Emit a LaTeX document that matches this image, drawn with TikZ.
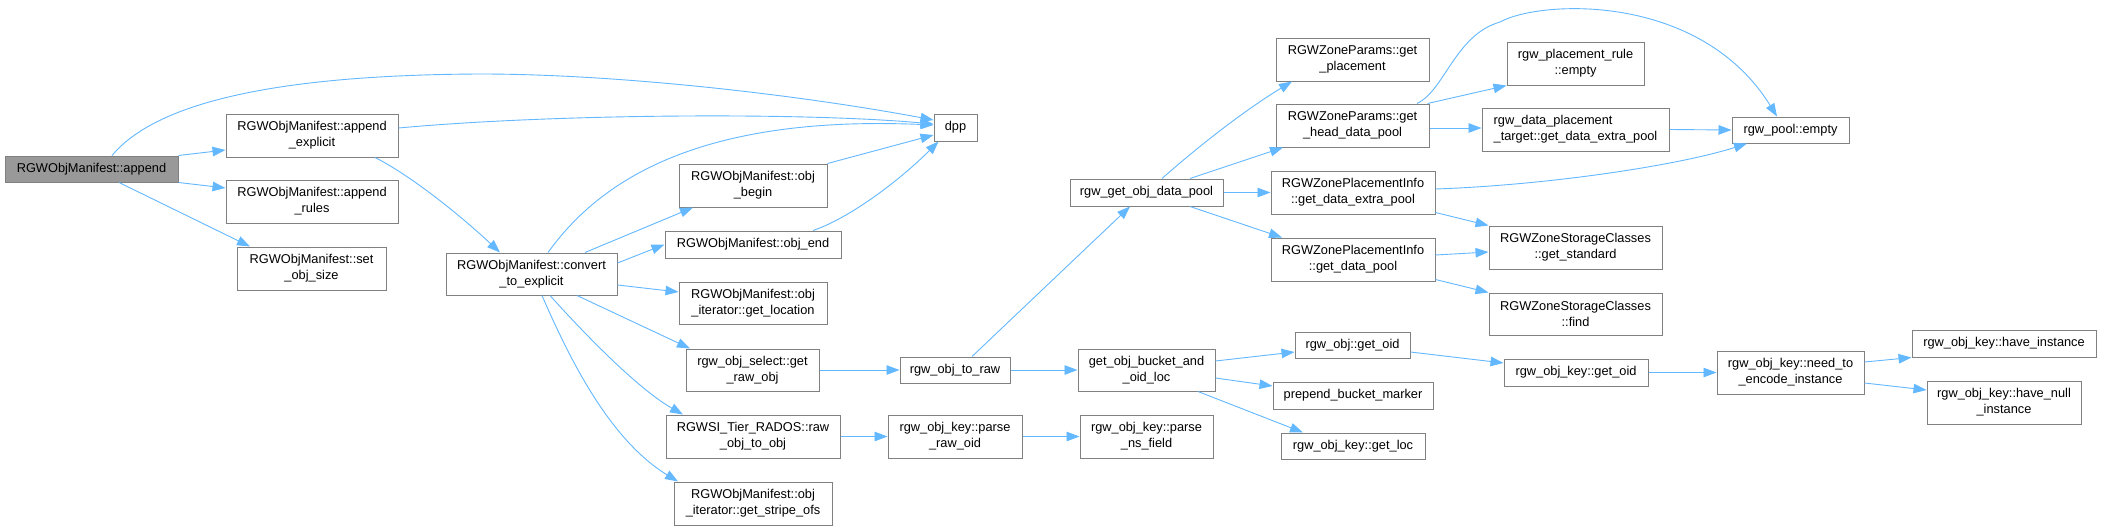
\documentclass[tikz,border=0pt]{standalone}
\usepackage{fontspec}
\setmainfont{Liberation Sans}
\usetikzlibrary{arrows.meta}
\definecolor{edgeblue}{HTML}{63B8FF}
\definecolor{boxgray}{HTML}{808080}
\definecolor{rootgray}{HTML}{999999}
\begin{document}
\begin{tikzpicture}[x=1pt,y=-1pt,
  box/.style={draw=boxgray, fill=white, line width=1pt, inner sep=0pt, align=center,
    font=\fontsize{12.8pt}{16pt}\selectfont},
  sz/.style 2 args={minimum width=#1pt, minimum height=#2pt},
  call/.style={draw=edgeblue, line width=0.9pt, -{Triangle[length=13pt,width=9.5pt,fill=edgeblue]}}]
\useasboundingbox[fill=white] (0,0) rectangle (2101,530);

% nodes
\node[box,sz={173}{26},fill=rootgray] (append) at (91.5,169) {RGWObjManifest::append};
\node[box,sz={172}{43}] (appexp) at (312,135.5) {RGWObjManifest::append\\\_explicit};
\node[box,sz={172}{43}] (apprules) at (312,201.5) {RGWObjManifest::append\\\_rules};
\node[box,sz={149}{43}] (setsize) at (311.5,268.5) {RGWObjManifest::set\\\_obj\_size};
\node[box,sz={171}{42}] (conv) at (531.5,274) {RGWObjManifest::convert\\\_to\_explicit};
\node[box,sz={43}{27}] (dpp) at (955.5,127.5) {dpp};
\node[box,sz={148}{43}] (objbegin) at (753,185.5) {RGWObjManifest::obj\\\_begin};
\node[box,sz={176}{27}] (objend) at (753,244.5) {RGWObjManifest::obj\_end};
\node[box,sz={148}{42}] (getloc) at (753,303) {RGWObjManifest::obj\\\_iterator::get\_location};
\node[box,sz={133}{42}] (getraw) at (752.5,370) {rgw\_obj\_select::get\\\_raw\_obj};
\node[box,sz={174}{43}] (raw2obj) at (753,436.5) {RGWSI\_Tier\_RADOS::raw\\\_obj\_to\_obj};
\node[box,sz={158}{43}] (stripe) at (753,503.5) {RGWObjManifest::obj\\\_iterator::get\_stripe\_ofs};
\node[box,sz={110}{26}] (obj2raw) at (955,370) {rgw\_obj\_to\_raw};
\node[box,sz={134}{43}] (parseraw) at (955,436.5) {rgw\_obj\_key::parse\\\_raw\_oid};
\node[box,sz={153}{27}] (datapool) at (1146.5,192.5) {rgw\_get\_obj\_data\_pool};
\node[box,sz={137}{42}] (bucketoid) at (1146.5,370) {get\_obj\_bucket\_and\\\_oid\_loc};
\node[box,sz={133}{43}] (nsfield) at (1146.5,436.5) {rgw\_obj\_key::parse\\\_ns\_field};
\node[box,sz={153}{43}] (getplacement) at (1352.5,59.5) {RGWZoneParams::get\\\_placement};
\node[box,sz={153}{43}] (headpool) at (1352.5,125.5) {RGWZoneParams::get\\\_head\_data\_pool};
\node[box,sz={164}{43}] (zpiextra) at (1353,192.5) {RGWZonePlacementInfo\\::get\_data\_extra\_pool};
\node[box,sz={164}{43}] (zpidata) at (1353,259.5) {RGWZonePlacementInfo\\::get\_data\_pool};
\node[box,sz={115}{26}] (objgetoid) at (1352.5,345) {rgw\_obj::get\_oid};
\node[box,sz={160}{27}] (prepend) at (1353,395.5) {prepend\_bucket\_marker};
\node[box,sz={144}{26}] (getlock) at (1353,446) {rgw\_obj\_key::get\_loc};
\node[box,sz={137}{43}] (ruleempty) at (1575.5,63.5) {rgw\_placement\_rule\\::empty};
\node[box,sz={187}{43},align=left] (dpt) at (1575.5,129.5) {rgw\_data\_placement\\\_target::get\_data\_extra\_pool};
\node[box,sz={173}{43}] (standard) at (1575.5,247.5) {RGWZoneStorageClasses\\::get\_standard};
\node[box,sz={173}{42}] (find) at (1575.5,314) {RGWZoneStorageClasses\\::find};
\node[box,sz={144}{27}] (keygetoid) at (1576,372.5) {rgw\_obj\_key::get\_oid};
\node[box,sz={117}{26}] (poolempty) at (1790.5,130) {rgw\_pool::empty};
\node[box,sz={147}{43}] (needenc) at (1790.5,372.5) {rgw\_obj\_key::need\_to\\\_encode\_instance};
\node[box,sz={184}{27}] (haveinst) at (2004,343.5) {rgw\_obj\_key::have\_instance};
\node[box,sz={154}{43}] (havenull) at (2004,402.5) {rgw\_obj\_key::have\_null\\\_instance};

% edges from append
\draw[call] (append.north east) -- ([yshift=-14.5pt]appexp.west);
\draw[call] (append.south east) -- ([yshift=13.5pt]apprules.west);
\draw[call] ([xshift=27.5pt]append.south) -- ([xshift=-61.5pt]setsize.north);
\draw[call] ([xshift=20.5pt]append.north) .. controls (150,110) and (250,75) .. (480,74)
  .. controls (620,74) and (800,95) .. ([yshift=7.5pt]dpp.west);

% append_explicit
\draw[call] ([yshift=7.5pt]appexp.east) .. controls (550,114) and (800,112) .. ([yshift=3.5pt]dpp.west);
\draw[call] ([xshift=63pt]appexp.south) .. controls (410,175) and (460,215) .. ([xshift=-31.5pt]conv.north);

% convert_to_explicit
\draw[call] ([xshift=16.5pt]conv.north) .. controls (600,180) and (700,115) .. ([yshift=2.5pt]dpp.west);
\draw[call] ([xshift=53.5pt]conv.north) -- ([xshift=-60pt]objbegin.south);
\draw[call] ([yshift=11pt]conv.east) -- (objend.west);
\draw[call] ([yshift=-11pt]conv.east) -- ([yshift=11pt]getloc.west);
\draw[call] ([xshift=45.5pt]conv.south) -- ([xshift=-62.5pt]getraw.north);
\draw[call] ([xshift=18.5pt]conv.south) .. controls (590,340) and (640,390) .. ([xshift=-70pt]raw2obj.north);
\draw[call] ([xshift=10.5pt]conv.south) .. controls (570,360) and (610,440) .. ([xshift=-75pt]stripe.north);

% to dpp
\draw[call] (objbegin.north east) -- ([yshift=-7.5pt]dpp.west);
\draw[call] ([xshift=60pt]objend.north) .. controls (850,218) and (900,180) .. ([xshift=-17pt]dpp.south);

% middle column
\draw[call] (getraw.east) -- (obj2raw.west);
\draw[call] (raw2obj.east) -- (parseraw.west);
\draw[call] ([xshift=17pt]obj2raw.north) -- ([xshift=-16.5pt]datapool.south);
\draw[call] (obj2raw.east) -- (bucketoid.west);
\draw[call] (parseraw.east) -- (nsfield.west);

% rgw_get_obj_data_pool
\draw[call] ([xshift=15.5pt]datapool.north) .. controls (1200,145) and (1245,110) .. ([xshift=-60.5pt]getplacement.south);
\draw[call] ([xshift=43.5pt]datapool.north) -- ([xshift=-69.5pt]headpool.south);
\draw[call] (datapool.east) -- (zpiextra.west);
\draw[call] ([xshift=43.5pt]datapool.south) -- ([xshift=-71pt]zpidata.north);

% get_head_data_pool
\draw[call] ([xshift=64.5pt]headpool.north) .. controls (1445,90) and (1455,35) .. (1500,22)
  .. controls (1540,0) and (1700,-8) .. ([xshift=-13.5pt]poolempty.north);
\draw[call] ([xshift=75pt]headpool.north) -- (ruleempty.south west);
\draw[call] ([yshift=-2.5pt]headpool.east) -- ([yshift=1.5pt]dpt.west);
\draw[call] (dpt.east) -- (poolempty.west);

% zone placement info
\draw[call] ([yshift=3.5pt]zpiextra.east) .. controls (1550,185) and (1680,165) .. ([xshift=-43.5pt]poolempty.south);
\draw[call] ([yshift=-20pt]zpiextra.east) -- (standard.north west);
\draw[call] ([yshift=4.5pt]zpidata.east) -- ([yshift=-4.5pt]standard.west);
\draw[call] ([yshift=2pt]zpidata.south east) -- (find.north west);

% get_obj_bucket_and_oid_loc
\draw[call] ([yshift=9pt]bucketoid.east) -- ([yshift=-7pt]objgetoid.west);
\draw[call] ([yshift=-8pt]bucketoid.east) -- ([yshift=9.5pt]prepend.west);
\draw[call] ([xshift=51.5pt]bucketoid.south) -- ([xshift=-50pt]getlock.north);

% oid chain
\draw[call] ([yshift=-7pt]objgetoid.east) -- ([yshift=9.5pt]keygetoid.west);
\draw[call] (keygetoid.east) -- (needenc.west);
\draw[call] ([yshift=10.5pt]needenc.east) -- (haveinst.south west);
\draw[call] ([yshift=-10.5pt]needenc.east) -- ([yshift=12.5pt]havenull.west);
\end{tikzpicture}
\end{document}
